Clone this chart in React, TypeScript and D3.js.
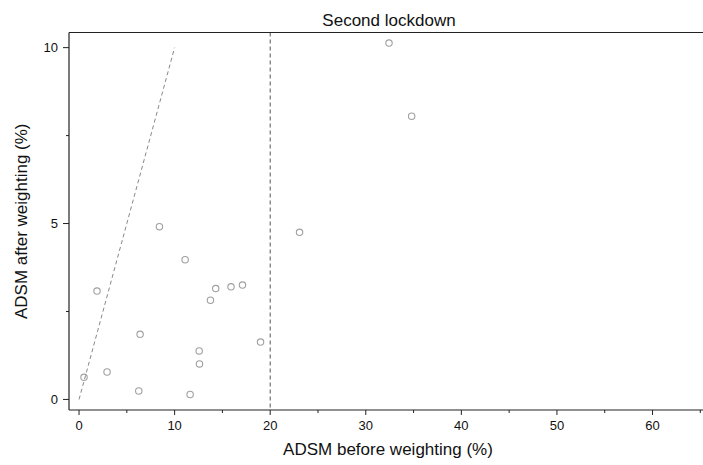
import React from "react";
import * as d3 from "d3";

const beforeWeighting = [0.52, 1.88, 2.93, 6.39, 6.25, 8.41, 11.1, 12.57, 12.6, 11.62, 13.75, 14.3, 15.9, 17.1, 18.99, 23.07, 32.43, 34.8];
const afterWeighting = [0.63, 3.08, 0.78, 1.85, 0.24, 4.91, 3.97, 1.38, 1.01, 0.14, 2.82, 3.15, 3.2, 3.25, 1.63, 4.75, 10.13, 8.05];
const xTicks = [0, 5, 10, 15, 20, 25, 30, 35, 40, 45, 50, 55, 60, 65];
const yTicks = [0, 2.5, 5, 7.5, 10];
const refLine = [[0, 0], [10, 10]];
const threshold = 20;
const title = "Second lockdown";
const xTitle = "ADSM before weighting (%)";
const yTitle = "ADSM after weighting (%)";

const W = 703;
const H = 465;
const left = 69;
const right = 707;
const top = 32.5;
const bottom = 410;
const font = "'Liberation Sans', Arial, Helvetica, sans-serif";

export default function App() {
  const x = d3.scaleLinear().domain([-1.05, 65.7]).range([left, right]);
  const y = d3.scaleLinear().domain([-0.3, 10.43]).range([bottom, top]);
  const line = d3.line<number[]>().x((d) => x(d[0])).y((d) => y(d[1]));
  const axisColor = "#222";
  return (
    <svg width={W} height={H} style={{ position: "absolute", left: 0, top: 0, background: "#fff" }} fontFamily={font}>
      <rect x={0} y={0} width={W} height={H} fill="#fff" />
      {/* reference y = x line */}
      <path d={line(refLine) || ""} fill="none" stroke="#888" strokeWidth={1} strokeDasharray="4,3" />
      {/* threshold vertical */}
      <line x1={x(threshold)} x2={x(threshold)} y1={top} y2={bottom} stroke="#555" strokeWidth={1} strokeDasharray="4,3" />
      {/* points */}
      {beforeWeighting.map((b, i) => (
        <circle key={i} cx={x(b)} cy={y(afterWeighting[i])} r={3.2} fill="none" stroke="#a0a0a0" strokeWidth={1.1} />
      ))}
      {/* frame */}
      <line x1={left} x2={W} y1={top} y2={top} stroke={axisColor} strokeWidth={1.2} />
      <line x1={left} x2={left} y1={top} y2={bottom} stroke={axisColor} strokeWidth={1.2} />
      <line x1={left} x2={W} y1={bottom} y2={bottom} stroke={axisColor} strokeWidth={1.2} />
      {/* x ticks */}
      {xTicks.map((t) => {
        const major = t % 10 === 0;
        return (
          <g key={"x" + t} transform={`translate(${x(t)},${bottom})`}>
            <line y1={0} y2={major ? 5 : 3} stroke={axisColor} strokeWidth={1} />
            {major && (
              <text y={20} textAnchor="middle" fontSize={13} fill="#111">
                {t}
              </text>
            )}
          </g>
        );
      })}
      {/* y ticks */}
      {yTicks.map((t) => {
        const major = t % 5 === 0;
        return (
          <g key={"y" + t} transform={`translate(${left},${y(t)})`}>
            <line x1={0} x2={major ? -6 : -3} stroke={axisColor} strokeWidth={1} />
            {major && (
              <text x={-11} dy="0.35em" textAnchor="end" fontSize={13} fill="#111">
                {t}
              </text>
            )}
          </g>
        );
      })}
      <text x={389} y={25.5} textAnchor="middle" fontSize={17} fill="#111">
        {title}
      </text>
      <text x={388} y={455} textAnchor="middle" fontSize={17} fill="#111">
        {xTitle}
      </text>
      <text transform={`translate(26.5,${(top + bottom) / 2}) rotate(-90)`} textAnchor="middle" fontSize={17} fill="#111">
        {yTitle}
      </text>
    </svg>
  );
}
